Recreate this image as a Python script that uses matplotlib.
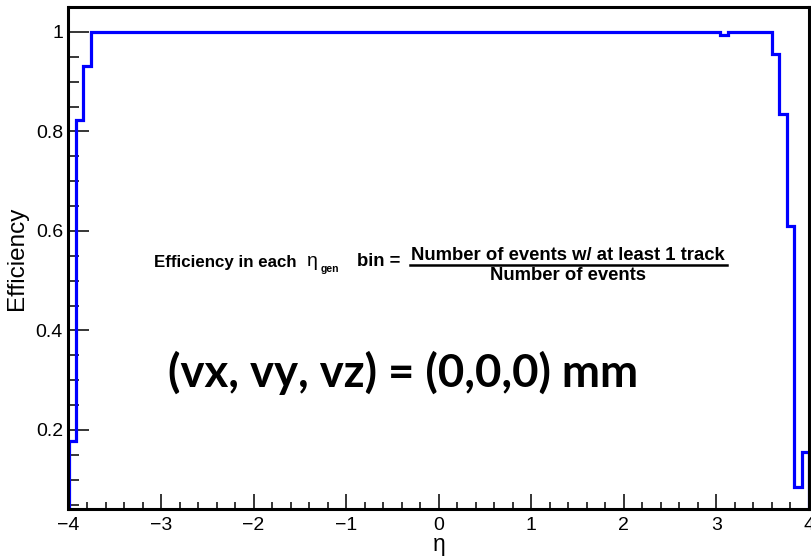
import numpy as np
import matplotlib
matplotlib.use("Agg")
import matplotlib.pyplot as plt
from matplotlib.lines import Line2D
from matplotlib.ticker import MultipleLocator, FixedLocator, FixedFormatter

# ---------------- data ----------------
eta_min, eta_max, n_bins = -4.0, 4.0, 100
efficiency = [
    0.178, 0.822, 0.932, 1.0, 1.0, 1.0, 1.0, 1.0, 1.0, 1.0,
    1.0, 1.0, 1.0, 1.0, 1.0, 1.0, 1.0, 1.0, 1.0, 1.0,
    1.0, 1.0, 1.0, 1.0, 1.0, 1.0, 1.0, 1.0, 1.0, 1.0,
    1.0, 1.0, 1.0, 1.0, 1.0, 1.0, 1.0, 1.0, 1.0, 1.0,
    1.0, 1.0, 1.0, 1.0, 1.0, 1.0, 1.0, 1.0, 1.0, 1.0,
    1.0, 1.0, 1.0, 1.0, 1.0, 1.0, 1.0, 1.0, 1.0, 1.0,
    1.0, 1.0, 1.0, 1.0, 1.0, 1.0, 1.0, 1.0, 1.0, 1.0,
    1.0, 1.0, 1.0, 1.0, 1.0, 1.0, 1.0, 1.0, 1.0, 1.0,
    1.0, 1.0, 1.0, 1.0, 1.0, 1.0, 1.0, 1.0, 0.993, 1.0,
    1.0, 1.0, 1.0, 1.0, 1.0, 0.955, 0.835, 0.61, 0.085, 0.155,
]
x_ticks = [-4, -3, -2, -1, 0, 1, 2, 3, 4]
x_tick_labels = ["\u22124", "\u22123", "\u22122", "\u22121", "0", "1", "2", "3", "4"]
y_ticks = [0.2, 0.4, 0.6, 0.8, 1.0]
y_tick_labels = ["0.2", "0.4", "0.6", "0.8", "1"]
y_min, y_max = 0.041, 1.05

# ---------------- figure ----------------
W, H = 812, 556
plt.rcParams["font.family"] = ["Liberation Sans", "DejaVu Sans"]
fig = plt.figure(figsize=(W / 100, H / 100), dpi=100)
fig.patch.set_facecolor("white")


def fx(px):
    return px / W


def fy(py):
    return 1 - py / H


ax_l, ax_r, ax_t, ax_b = 68.5, 809, 7, 509
ax = fig.add_axes([fx(ax_l), fy(ax_b), (ax_r - ax_l) / W, (ax_b - ax_t) / H])

edges = np.linspace(eta_min, eta_max, n_bins + 1)
ax.stairs(efficiency, edges, baseline=y_min, color=(0, 0, 1), lw=2.3, zorder=2)

ax.set_xlim(eta_min, eta_max)
ax.set_ylim(y_min, y_max)

for s in ax.spines.values():
    s.set_linewidth(2.2)
    s.set_color("black")
    s.set_zorder(3)

ax.xaxis.set_major_locator(FixedLocator(x_ticks))
ax.xaxis.set_major_formatter(FixedFormatter(x_tick_labels))
ax.xaxis.set_minor_locator(MultipleLocator(0.2))
ax.yaxis.set_major_locator(FixedLocator(y_ticks))
ax.yaxis.set_major_formatter(FixedFormatter(y_tick_labels))
ax.yaxis.set_minor_locator(MultipleLocator(0.05))

ax.tick_params(axis="x", which="major", direction="in", length=11, width=1.1,
               labelsize=14, pad=6, top=False)
ax.tick_params(axis="x", which="minor", direction="in", length=5, width=1.1, top=False)
ax.tick_params(axis="y", which="major", direction="in", length=15, width=1.1,
               labelsize=14, pad=4, right=False)
ax.tick_params(axis="y", which="minor", direction="in", length=8, width=1.1, right=False)

ax.set_ylabel("Efficiency", fontsize=17.5)
ax.yaxis.set_label_coords((17 - ax_l) / (ax_r - ax_l), 0.5)
ax.yaxis.label.set_va("center")
ax.set_xlabel("\u03b7", fontsize=16.5)
ax.xaxis.set_label_coords(0.5, -(545 - ax_b) / (ax_b - ax_t))
ax.xaxis.label.set_va("center")

# ---------------- annotation text ----------------
bold = dict(fontweight="bold", color="black")
fig.text(fx(154), fy(262.5), "Efficiency in each", fontsize=12.2, ha="left", va="center", **bold)
fig.text(fx(307), fy(261), "\u03b7", fontsize=14, ha="left", va="center")
fig.text(fx(321), fy(269), "gen", fontsize=7.5, ha="left", va="center", **bold)
fig.text(fx(357), fy(262), "bin =", fontsize=13.3, ha="left", va="center", **bold)
fig.text(fx(568), fy(255), "Number of events w/ at least 1 track", fontsize=13.3,
         ha="center", va="center", **bold)
fig.text(fx(568), fy(276), "Number of events", fontsize=13.3, ha="center", va="center", **bold)
fig.add_artist(Line2D([fx(410), fx(727)], [fy(265), fy(265)], color="black", lw=1.8,
                      transform=fig.transFigure))

fig.text(fx(403), fy(373), "(vx, vy, vz) = (0,0,0) mm", fontsize=32.8,
         family=["Lato", "DejaVu Sans"], fontweight="bold", ha="center", va="center")

fig.savefig("out.png", dpi=100)
